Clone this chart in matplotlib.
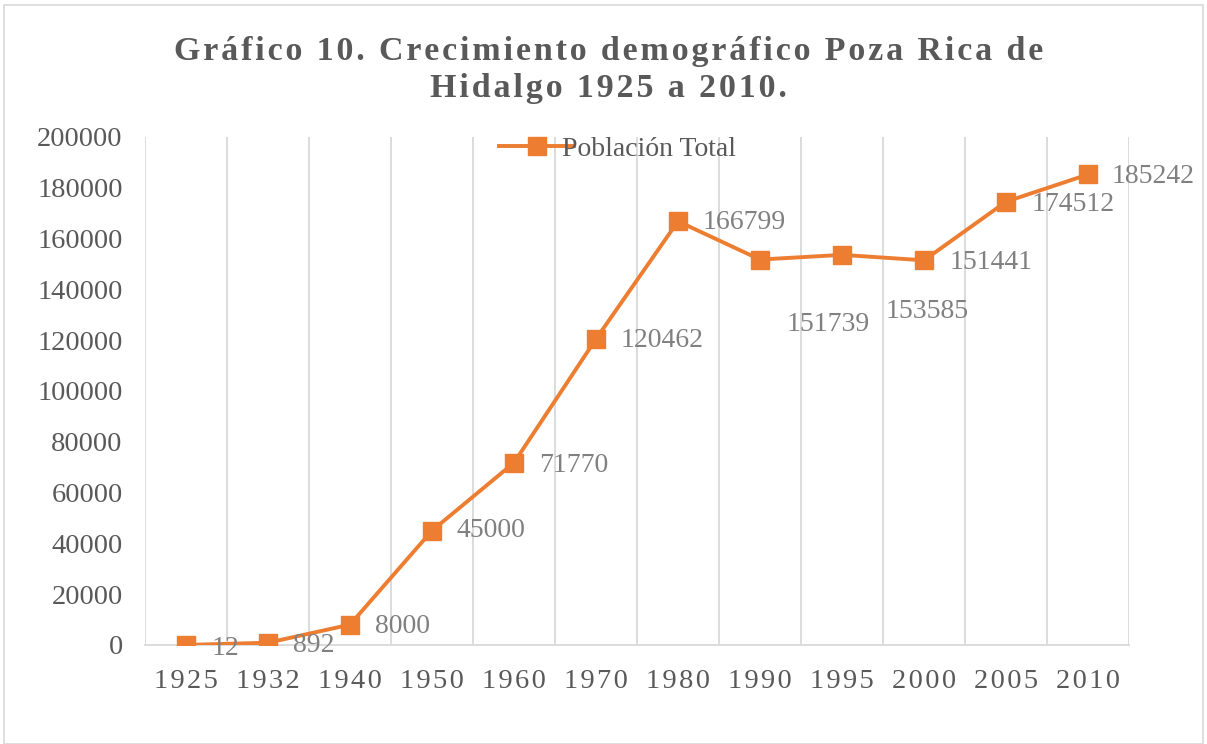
import matplotlib
matplotlib.use("Agg")
import matplotlib.pyplot as plt
from matplotlib.patches import Rectangle

years = ["1925", "1932", "1940", "1950", "1960", "1970", "1980", "1990", "1995", "2000", "2005", "2010"]
population = [12, 892, 8000, 45000, 71770, 120462, 166799, 151739, 153585, 151441, 174512, 185242]
series_name = "Población Total"
title_lines = ["Gráfico 10. Crecimiento demográfico Poza Rica de", "Hidalgo 1925 a 2010."]

# label offsets in pixels (dx, dy) relative to each point
label_offsets = [(26, -4), (25, -3), (25, -2), (25, 0), (25, -3), (25, -2), (25, -1),
                 (27, -65), (44, -57), (26, -2), (26, -3), (24, -2)]

ORANGE = "#ED7D31"
TXT = "#595959"
LBL = "#808080"
GRID = "#D9D9D9"
HS = "\u200a"

def spaced(s, sep=HS):
    return sep.join(list(s))

plt.rcParams['font.family'] = ['Liberation Serif', 'DejaVu Serif']

fig = plt.figure(figsize=(12.07, 7.44), dpi=100)
fig.patches.append(Rectangle((0.003, 0.0), 0.994, 0.993, transform=fig.transFigure,
                             fill=False, edgecolor=GRID, linewidth=1.2))
ax = fig.add_axes([0.1201, 0.1331, 0.8153, 0.6828])

x = list(range(len(years)))
ax.plot(x, population, color=ORANGE, linewidth=2.8, marker='s', markersize=13,
        markerfacecolor=ORANGE, markeredgecolor=ORANGE, label=series_name, zorder=3)

for i, v in enumerate(population):
    dx, dy = label_offsets[i]
    ax.annotate(str(v), (i, v), xytext=(dx, dy), textcoords='offset pixels',
                ha='left', va='center', fontsize=20, color=LBL, zorder=4)

ax.set_xlim(-0.5, len(years) - 0.5)
ax.set_ylim(0, 200000)
ax.set_yticks(range(0, 200001, 20000))
ax.set_yticklabels([str(t) for t in range(0, 200001, 20000)])
ax.set_xticks(x)
ax.set_xticklabels([spaced(y) for y in years])
ax.tick_params(axis='both', length=0, colors=TXT, labelsize=20.5)
ax.tick_params(axis='x', pad=17)
ax.tick_params(axis='y', pad=16)

# vertical category gridlines (between categories)
ax.set_xticks([i + 0.5 for i in range(-1, len(years))], minor=True)
ax.grid(which='minor', axis='x', color=GRID, linewidth=1.3)
ax.tick_params(which='minor', length=0)
ax.grid(which='major', visible=False)

for s in ['top', 'left', 'right']:
    ax.spines[s].set_visible(False)
ax.spines['bottom'].set_color(GRID)
ax.spines['bottom'].set_linewidth(1.3)

leg = ax.legend(loc='upper center', bbox_to_anchor=(0.48, 1.05), frameon=False,
                fontsize=20, handlelength=2.7, handletextpad=-0.45)
for t in leg.get_texts():
    t.set_color(TXT)

fig.text(0.504, 0.906, spaced(title_lines[0]) + "\n" + spaced(title_lines[1]),
         ha='center', va='center', fontsize=24.5, fontweight='bold', color=TXT,
         linespacing=1.25)

fig.savefig("out.png", dpi=100)
